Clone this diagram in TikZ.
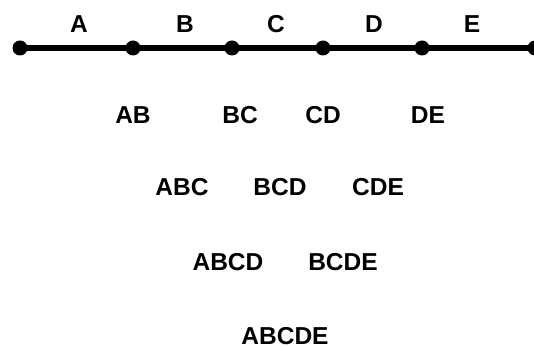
\documentclass[tikz,border=0pt]{standalone}
\usepackage{fontspec}
\setmainfont{Liberation Sans}
\begin{document}
\begin{tikzpicture}[x=1pt,y=-1pt,
  lbl/.style={font=\fontsize{24.5}{28}\selectfont\bfseries, inner sep=0pt, anchor=center},
  pt/.style={circle, fill=black, minimum size=15pt, inner sep=0pt}]
  \useasboundingbox (0,0) rectangle (534,347);
  % the segmented line with its division points
  \node[pt] (p1) at (20,48) {};
  \node[pt] (p2) at (133,48) {};
  \node[pt] (p3) at (232,48) {};
  \node[pt] (p4) at (323,48) {};
  \node[pt] (p5) at (422,48) {};
  \node[pt] (p6) at (535,48) {};
  \draw[line width=6.8pt] (p1.center) -- (p6.center);
  % segment names
  \node[lbl] (a) at (79,24) {A};
  \node[lbl] (b) at (185,24) {B};
  \node[lbl] (c) at (276,24) {C};
  \node[lbl] (d) at (374,24) {D};
  \node[lbl] (e) at (472,24) {E};
  % pairs
  \node[lbl] (ab) at (133,115) {AB};
  \node[lbl] (bc) at (240,115) {BC};
  \node[lbl] (cd) at (323,115) {CD};
  \node[lbl] (de) at (428,115) {DE};
  % triples
  \node[lbl] (abc) at (182,187) {ABC};
  \node[lbl] (bcd) at (280,187) {BCD};
  \node[lbl] (cde) at (378,187) {CDE};
  % quadruples
  \node[lbl] (abcd) at (228,262) {ABCD};
  \node[lbl] (bcde) at (343,262) {BCDE};
  % all five
  \node[lbl] (abcde) at (285,336) {ABCDE};
\end{tikzpicture}
\end{document}
